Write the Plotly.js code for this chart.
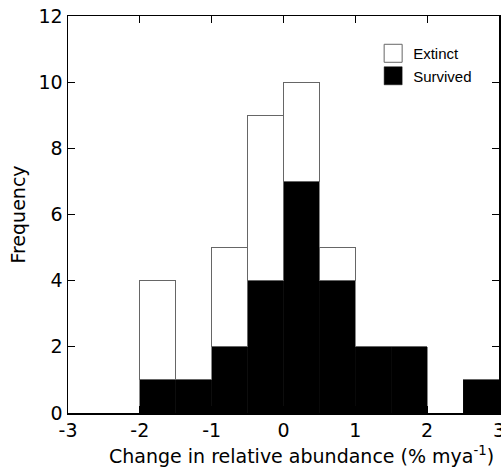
<!DOCTYPE html>
<html><head><meta charset="utf-8">
<script src="https://cdn.plot.ly/plotly-3.0.1.min.js"></script>
<style>html,body{margin:0;padding:0;background:#fff}#chart{width:501px;height:469px}</style>
</head><body><div id="chart"></div>
<script>
const binCenters = [-1.75, -1.25, -0.75, -0.25, 0.25, 0.75, 1.25, 1.75, 2.25, 2.75];
const survived = [1, 1, 2, 4, 7, 4, 2, 2, 0, 1];
const extinct  = [3, 0, 3, 5, 3, 1, 0, 0, 0, 0];
const xTicks = [-3, -2, -1, 0, 1, 2, 3];
const yTicks = [0, 2, 4, 6, 8, 10, 12];
const xTitle = 'Change in relative abundance (% mya<sup>-1</sup>)';
const yTitle = 'Frequency';

const axisFont = {family: '"DejaVu Sans", "Liberation Sans", Arial, sans-serif', color: '#000', size: 19};
const legendFont = {family: '"Liberation Sans", Arial, Helvetica, sans-serif', color: '#000', size: 15};

const data = [
  {type: 'bar', name: 'Survived', x: binCenters, y: survived, width: 0.5,
   marker: {color: '#000000', line: {color: '#111', width: 0.5}}},
  {type: 'bar', name: 'Extinct', x: binCenters, y: extinct, width: 0.5,
   marker: {color: '#ffffff', line: {color: '#666', width: 1}}}
];

const layout = {
  width: 501, height: 469,
  margin: {l: 68, r: 2, t: 16, b: 56},
  barmode: 'stack', bargap: 0,
  paper_bgcolor: '#fff', plot_bgcolor: '#fff',
  font: axisFont,
  showlegend: true,
  legend: {x: 0.708, y: 0.947, xanchor: 'left', yanchor: 'top', traceorder: 'reversed',
           font: legendFont, bgcolor: 'rgba(0,0,0,0)'},
  xaxis: {range: [-3, 3], tickvals: xTicks, ticktext: xTicks.map(String),
          ticks: 'inside', ticklen: 7, tickcolor: '#000', mirror: 'ticks',
          ticklabeloverflow: 'allow',
          showline: true, linecolor: '#000', linewidth: 1.5, showgrid: false, zeroline: false,
          tickfont: axisFont, automargin: false},
  yaxis: {range: [0, 12], tickvals: yTicks, ticktext: yTicks.map(String),
          ticks: 'inside', ticklen: 7, tickcolor: '#000', mirror: 'ticks',
          showline: true, linecolor: '#000', linewidth: 1.5, showgrid: false, zeroline: false,
          tickfont: axisFont, automargin: false,
          title: {text: yTitle, font: axisFont, standoff: 8}},
  annotations: [{text: xTitle, xref: 'paper', yref: 'paper', x: 0.542, y: -0.106,
                 xanchor: 'center', yanchor: 'middle', showarrow: false, font: axisFont}]
};
Plotly.newPlot('chart', data, layout, {displayModeBar: false, staticPlot: true}).then(function (gd) {
  // enlarge legend swatches to match the reference's larger boxes
  gd.querySelectorAll('.legend .legendpoints path').forEach(function (p) {
    p.setAttribute('d', 'M9,9H-9V-9H9Z');
  });
});
</script></body></html>
